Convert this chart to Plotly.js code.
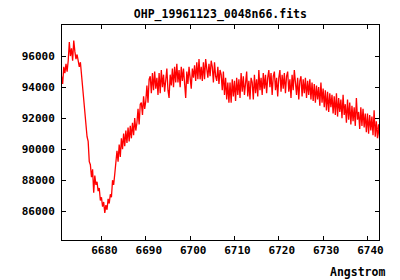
<!DOCTYPE html>
<html>
<head>
<meta charset="utf-8">
<script src="https://cdn.plot.ly/plotly-3.0.1.min.js"></script>
<style>html,body{margin:0;padding:0;background:#fff}#chart{width:400px;height:280px}</style>
</head>
<body>
<div id="chart"></div>
<script>
// Spectrum: wavelength grid as in the FITS header (start + step), flux values
const CRVAL1 = 6671.0;   // first wavelength (Angstrom)
const CDELT1 = 0.25;     // step (Angstrom)
const flux = [
  94700, 94200, 95300, 94900,  95500, 95000, 95700, 96900,
  96000, 96500, 95700, 97000,  96300, 95800, 96100, 95500,
  95300, 95600, 94700, 94200,  93200, 92400, 91300, 90800,
  90500, 89200, 89000, 88200,  88700, 87200, 88300, 87700,
  87900, 87300, 87500, 86700,  86900, 86300, 86600, 85900,
  86400, 86100, 86800, 86500,  87100, 86900, 88000, 87700,
  88400, 89300, 89900, 89200,  90300, 89500, 90700, 90000,
  91000, 90200, 91200, 90400,  91400, 90500, 91500, 90700,
  91700, 90900, 92000, 91200,  91700, 92600, 91600, 92900,
  93000, 92200, 93400, 92600,  93100, 94100, 93000, 94500,
  94700, 93600, 94900, 93800,  95000, 93900, 94600, 93500,
  94900, 93600, 95100, 94000,  94800, 93700, 94300, 95200,
  93800, 93300, 94800, 94100,  95200, 94000, 95300, 94300,
  95500, 94300, 95100, 94000,  95300, 94400, 95200, 94100,
  93300, 95000, 94200, 95300,  94400, 93900, 95200, 94600,
  95400, 94400, 95600, 94500,  95800, 94500, 95300, 94400,
  95600, 94500, 95800, 94900,  94600, 95500, 94700, 95700,
  95300, 94300, 95600, 94700,  94400, 95300, 94200, 95100,
  94800, 93800, 95000, 93500,  94600, 93200, 94300, 93000,
  94300, 93000, 94500, 93400,  94400, 93100, 94600, 93500,
  94500, 93300, 94900, 93700,  94700, 93500, 94400, 95000,
  93400, 94400, 93200, 94600,  94300, 93200, 94800, 93600,
  94500, 93400, 95100, 93800,  94600, 93500, 94900, 93900,
  94800, 93600, 94600, 95100,  94000, 94900, 93500, 94700,
  95000, 93800, 94600, 93400,  94600, 95100, 93700, 94800,
  93900, 94900, 93600, 94700,  95000, 93700, 94500, 93300,
  94800, 93800, 95100, 94000,  93500, 94600, 93200, 94400,
  94700, 93400, 94500, 93600,  94600, 93300, 94400, 93500,
  94500, 93200, 94300, 93100,  94200, 93000, 94100, 93200,
  94000, 92800, 94300, 93000,  93900, 92700, 93800, 92500,
  93700, 92400, 93600, 92700,  93500, 92300, 93400, 92200,
  93600, 92100, 93300, 92400,  93200, 92000, 93500, 92200,
  92900, 91700, 93200, 91900,  93000, 91600, 92800, 91800,
  92700, 91500, 93300, 91900,  92400, 91300, 92700, 91500,
  92600, 91400, 92300, 91100,  92300, 91000, 92200, 91200,
  92100, 90900, 92500, 90800,  91800, 90700, 91600, 90600
];
const wave = flux.map((_, i) => CRVAL1 + i * CDELT1);

const chartTitle = 'OHP_19961123_0048n66.fits';
const xLabel = 'Angstrom';
const xRange = [6671.1, 6742.6];
const yRange = [84150, 98000];
const xTicks = [6680, 6690, 6700, 6710, 6720, 6730, 6740];
const yTicks = [86000, 88000, 90000, 92000, 94000, 96000];

const fnt = {family: 'DejaVu Sans Mono', size: 11, color: '#000', weight: 'bold'};

const axisCommon = {
  showgrid: false, zeroline: false, showline: true, linecolor: '#000', linewidth: 1,
  mirror: 'ticks', ticks: 'inside', ticklen: 4, tickcolor: '#000', tickwidth: 1,
  tickfont: fnt, tickmode: 'array'
};

Plotly.newPlot('chart', [{
  x: wave, y: flux, type: 'scatter', mode: 'lines',
  line: {color: '#ff0000', width: 1.3}, hoverinfo: 'skip'
}], {
  width: 400, height: 280,
  margin: {l: 62, r: 21, t: 25, b: 40, pad: 0},
  paper_bgcolor: '#fff', plot_bgcolor: '#fff',
  showlegend: false,
  title: {text: chartTitle, font: Object.assign({}, fnt, {size: 11.5}), x: 0.551, xanchor: 'center', y: 0.95, yanchor: 'middle'},
  xaxis: Object.assign({}, axisCommon, {range: xRange, tickvals: xTicks, ticktext: xTicks.map(String), ticklabelshift: 3}),
  yaxis: Object.assign({}, axisCommon, {range: yRange, tickvals: yTicks, ticktext: yTicks.map(String), ticklabelstandoff: 4}),
  annotations: [{
    text: xLabel, xref: 'paper', yref: 'paper', x: 1, y: 0, xanchor: 'right', yanchor: 'middle',
    xshift: 8, yshift: -32, showarrow: false, font: Object.assign({}, fnt, {size: 11.5})
  }]
}, {staticPlot: true, displayModeBar: false});
</script>
</body>
</html>
